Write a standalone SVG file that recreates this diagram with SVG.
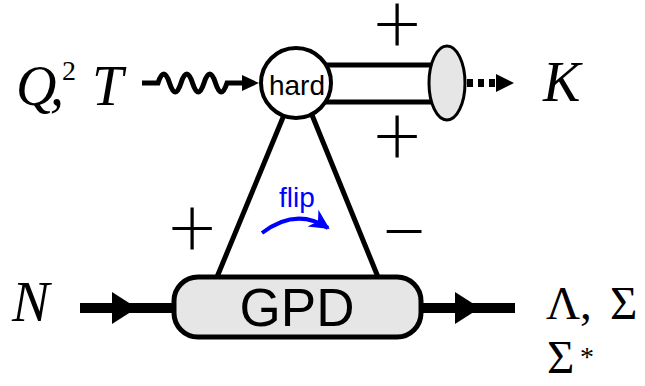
<svg xmlns="http://www.w3.org/2000/svg" width="645" height="386" viewBox="0 0 645 386">
<style>
.ln{stroke:#000;stroke-width:5;fill:none}
.thick{stroke:#000;stroke-width:10;fill:none}
.it{font-family:"Liberation Serif",serif;font-style:italic;fill:#000}
.rm{font-family:"Liberation Serif",serif;fill:#000}
.sans{font-family:"Liberation Sans",Arial,sans-serif;fill:#000}
.sign{font-family:Lato,"Liberation Sans",sans-serif;font-weight:300;font-size:84px;text-anchor:middle;fill:#000}
</style>
<defs>
<marker id="bluehead" viewBox="0 0 10 10" refX="9" refY="5" markerWidth="5" markerHeight="5" orient="auto" markerUnits="strokeWidth">
<path d="M0,0 L10,5 L0,10 L3,5 Z" fill="#0000ff"/>
</marker>
</defs>
<rect width="645" height="386" fill="#fff"/>
<g id="connectors">
<path class="ln" d="M142,83 H158 Q163.75,65 169.5,83 T181,83 T192.5,83 T204,83 T215.5,83 T227,83 H244"/>
<polygon points="242,75 259,83 242,91" fill="#000"/>
<line class="ln" x1="284" y1="115" x2="217" y2="277"/>
<line class="ln" x1="312" y1="115" x2="378" y2="277"/>
<line class="ln" x1="320" y1="65" x2="445" y2="65"/>
<line class="ln" x1="320" y1="102" x2="445" y2="102"/>
<line stroke="#000" stroke-width="8" stroke-dasharray="6,5" x1="467" y1="83" x2="498" y2="83"/>
<polygon points="496,74 514,83 496,92" fill="#000"/>
<line class="thick" x1="80" y1="308" x2="175" y2="308"/>
<polygon points="112,292 137,308 112,324" fill="#000"/>
<line class="thick" x1="420" y1="308" x2="515" y2="308"/>
<polygon points="455,292 480,308 455,324" fill="#000"/>
<path d="M262,233 Q296,207 328,228" stroke="#0000ff" stroke-width="4" fill="none" marker-end="url(#bluehead)"/>
</g>
<g id="hard">
<circle cx="296" cy="83" r="35" fill="#fff" stroke="#000" stroke-width="4"/>
<text class="sans" x="297" y="95" font-size="28" text-anchor="middle">hard</text>
</g>
<g id="meson">
<ellipse cx="447" cy="83" rx="18" ry="37" fill="#e6e6e6" stroke="#000" stroke-width="3"/>
</g>
<g id="gpd">
<rect x="174" y="277" width="247" height="60" rx="24" ry="24" fill="#e6e6e6" stroke="#000" stroke-width="5"/>
<text class="sans" x="297" y="326" font-size="53" text-anchor="middle">GPD</text>
</g>
<g id="labels">
<text class="it" x="16" y="105" font-size="56">Q</text>
<text class="it" x="50" y="105" font-size="56">,</text>
<text class="rm" x="62" y="80" font-size="28">2</text>
<text class="it" x="92" y="105" font-size="56">T</text>
<text class="it" x="543" y="101" font-size="56">K</text>
<text class="it" x="12" y="321" font-size="56">N</text>
<text class="rm" x="546" y="319" font-size="47">Λ,</text>
<text class="rm" x="610" y="319" font-size="47">Σ</text>
<text class="rm" x="547" y="373" font-size="47">Σ</text>
<text class="rm" x="580" y="366" font-size="28">*</text>
<text class="sign" x="397" y="53">+</text>
<text class="sign" x="397" y="165">+</text>
<text class="sign" x="192" y="257">+</text>
<text class="sign" x="404" y="260">−</text>
<text x="297" y="207" font-family="Liberation Sans,Arial,sans-serif" font-size="28" text-anchor="middle" fill="#0000ff">flip</text>
</g>
</svg>
